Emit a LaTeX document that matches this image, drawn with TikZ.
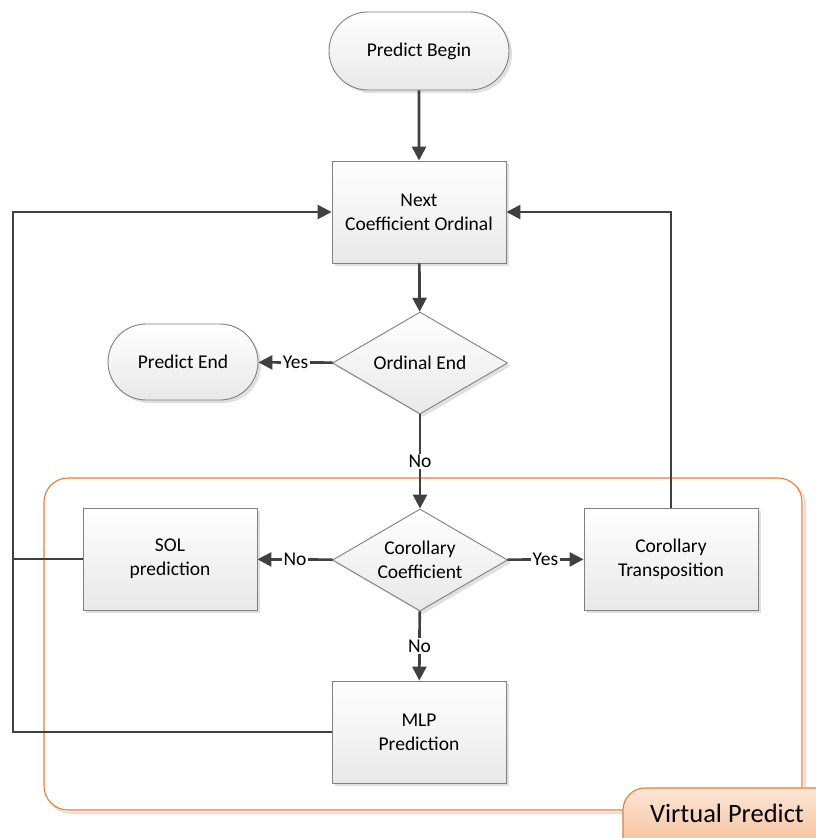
\documentclass[tikz,border=0pt]{standalone}
\usepackage{fontspec}
\setmainfont{Carlito}
\usetikzlibrary{shapes.geometric,shapes.misc,shadows,arrows.meta}
\definecolor{linegray}{HTML}{404040}
\definecolor{boxgray}{HTML}{808080}
\definecolor{vporange}{HTML}{ED7D31}
\definecolor{vplight}{HTML}{FCE6D6}
\definecolor{vpdark}{HTML}{F4B183}

\begin{document}
\begin{tikzpicture}[x=1pt,y=-1pt,
  every node/.style={font=\fontsize{19.5}{24}\selectfont},
  shadebox/.style={draw=boxgray, line width=0.9pt, top color=white, bottom color=black!9,
    drop shadow={shadow xshift=3pt, shadow yshift=-3pt, fill=black!20, opacity=.6}},
  proc/.style={shadebox, rectangle, minimum width=174pt, minimum height=102pt, align=center, inner sep=0pt},
  term/.style={shadebox, rounded rectangle, inner sep=0pt},
  decision/.style={shadebox, diamond, aspect=1.7, minimum width=175pt, minimum height=102pt, align=center, inner sep=0pt},
  flow/.style={draw=linegray, line width=2.7pt, -{Triangle[length=14pt,width=14pt]}},
  wire/.style={draw=linegray, line width=2.7pt},
  lbl/.style={fill=white, inner sep=1.5pt}]
\clip (0,0) rectangle (816,838);
\fill[white] (0,0) rectangle (816,838);

% virtual predict frame
\draw[black!12, line width=2pt, rounded corners=24pt] (47,481) rectangle (805,813);
\draw[vporange, line width=1.1pt, rounded corners=24pt, fill=white] (44,478) rectangle (802,810);

% nodes
\node[term, minimum width=180pt, minimum height=78pt] (begin) at (419,51) {Predict Begin};
\node[proc] (next) at (419,212) {Next\\Coefficient Ordinal};
\node[decision] (ordend) at (420,363) {Ordinal End};
\node[term, minimum width=150pt, minimum height=76pt] (pend) at (183,362) {Predict End};
\node[decision] (corco) at (420,560) {Corollary\\Coefficient};
\node[proc] (sol) at (170,559) {SOL\\prediction};
\node[proc] (ctrans) at (671,559) {Corollary\\Transposition};
\node[proc] (mlp) at (419,732) {MLP\\Prediction};
\coordinate (rail) at (13,212);

% tab
\draw[vporange, line width=1.1pt, rounded corners=22pt, top color=vplight, bottom color=vpdark] (623,788) rectangle (850,870);
\node[font=\fontsize{26.5}{30}\selectfont] (vp) at (727,813) {Virtual Predict};

% connectors
\draw[flow] (begin) -- (next);
\draw[flow] (next) -- (ordend);
\draw[flow] (ordend) -- node[lbl] {Yes} (pend);
\draw[flow] (ordend) -- node[lbl] {No} (corco);
\draw[flow] (corco) -- node[lbl] {No} (sol);
\draw[flow] (corco) -- node[lbl] {Yes} (ctrans);
\draw[flow] (corco) -- node[lbl] {No} (mlp);
\draw[flow] (ctrans.north) |- (next.east);
\draw[wire] (sol.west) -- (sol.west -| rail);
\draw[flow] (mlp.west) -| (rail) -- (next.west);
\end{tikzpicture}
\end{document}
